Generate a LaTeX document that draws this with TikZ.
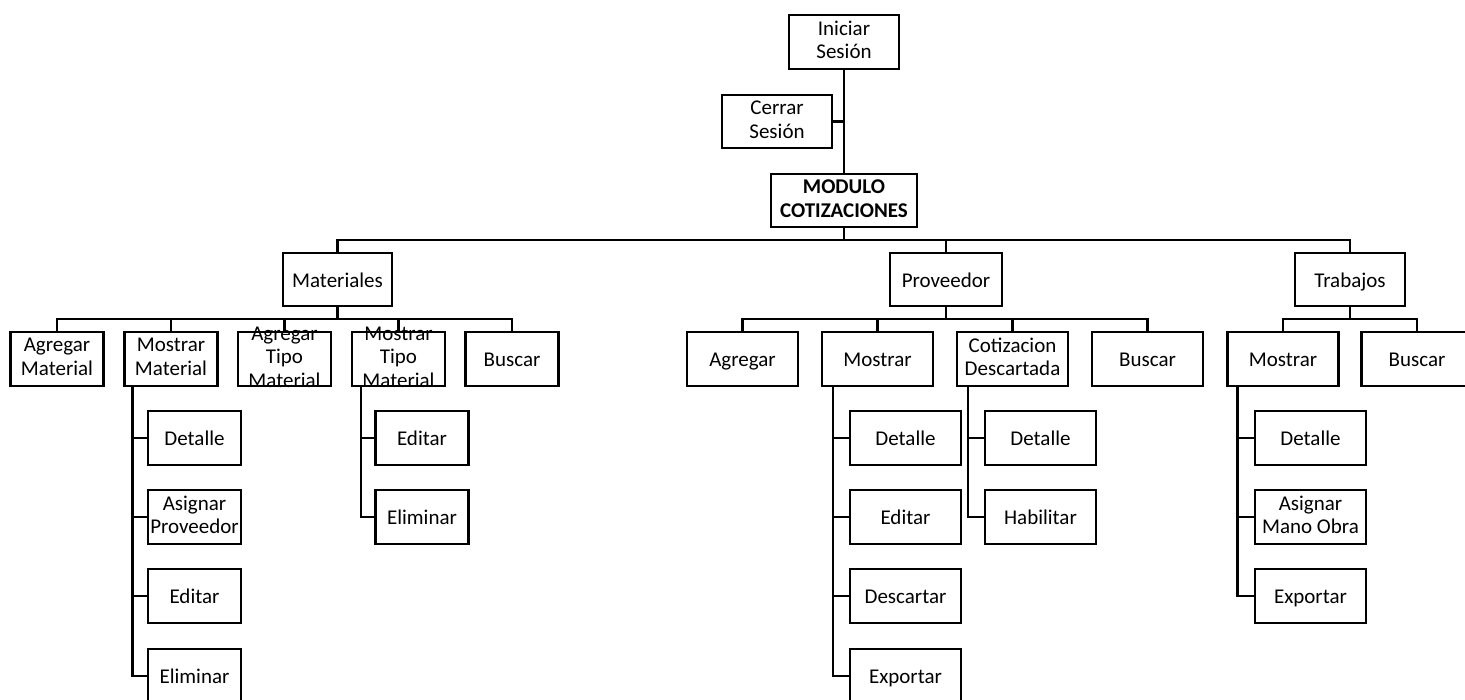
\documentclass[tikz,border=0pt]{standalone}
\usepackage{fontspec}
\setmainfont{Carlito}
\newcommand\boxstrut{\rule[-4.05pt]{0pt}{23.5pt}}
\begin{document}
\begin{tikzpicture}[x=1pt,y=-1pt,
  txtfont/.style={font=\fontsize{21}{23.5}\selectfont},
  box/.style={draw, line width=2.2pt, minimum height=54pt, inner sep=0pt, align=center, txtfont,
    execute at begin node=\boxstrut, execute at end node=\boxstrut},
  topbox/.style={box, minimum height=53pt},
  wA/.style={minimum width=93pt},
  wB/.style={minimum width=111pt},
  conn/.style={line width=2.6pt},
  lbl/.style={inner sep=0pt, align=center, txtfont,
    execute at begin node=\boxstrut, execute at end node=\boxstrut}]
\useasboundingbox (0,0) rectangle (1465,700);
\clip (0,0) rectangle (1465,700);

% top
\node[box, minimum width=110pt] (ini) at (844,42) {Iniciar\\Sesión};
\node[topbox, minimum width=110pt] (cer) at (777,121.5) {Cerrar\\Sesión};
\node[topbox, minimum width=146pt, font=\fontsize{21}{23.5}\selectfont\bfseries] (mod) at (844,200.5) {MODULO\\COTIZACIONES};

% level 1
\node[topbox, minimum width=109pt] (mat) at (337.5,279.5) {Materiales};
\node[topbox, minimum width=112pt] (prov) at (946,279.5) {Proveedor};
\node[topbox, minimum width=110pt] (trab) at (1350,279.5) {Trabajos};

% level 2 materiales
\node[box, wA] (m1) at (57,359) {Agregar\\Material};
\node[box, wA] (m2) at (171,359) {Mostrar\\Material};
\node[box, wA, execute at begin node={}, execute at end node={}] (m3) at (284.5,359) {};
\node[lbl] (m3t) at (m3) {Agregar\\Tipo\\Material};
\node[box, wA, execute at begin node={}, execute at end node={}] (m4) at (398.5,359) {};
\node[lbl] (m4t) at (m4) {Mostrar\\Tipo\\Material};
\node[box, wA] (m5) at (512,359) {Buscar};

% level 2 proveedor
\node[box, wB] (p1) at (742.5,359) {Agregar};
\node[box, wB] (p2) at (877.5,359) {Mostrar};
\node[box, wB] (p3) at (1012.5,359) {Cotizacion\\Descartada};
\node[box, wB] (p4) at (1147.5,359) {Buscar};

% level 2 trabajos
\node[box, wB] (t1) at (1283,359) {Mostrar};
\node[box, wB] (t2) at (1417,359) {Buscar};

% level 3
\node[box, wA] (m2a) at (194.5,438) {Detalle};
\node[box, wA] (m2b) at (194.5,517) {Asignar\\Proveedor};
\node[box, wA] (m2c) at (194.5,596) {Editar};
\node[box, wA] (m2d) at (194.5,676) {Eliminar};

\node[box, wA] (m4a) at (422,438) {Editar};
\node[box, wA] (m4b) at (422,517) {Eliminar};

\node[box, wB] (p2a) at (905.5,438) {Detalle};
\node[box, wB] (p2b) at (905.5,517) {Editar};
\node[box, wB] (p2c) at (905.5,596) {Descartar};
\node[box, wB] (p2d) at (905.5,676) {Exportar};

\node[box, wB] (p3a) at (1040.5,438) {Detalle};
\node[box, wB] (p3b) at (1040.5,517) {Habilitar};

\node[box, wB] (t1a) at (1310.5,438) {Detalle};
\node[box, wB] (t1b) at (1310.5,517) {Asignar\\Mano Obra};
\node[box, wB] (t1c) at (1310.5,596) {Exportar};

% connectors
\draw[conn] (ini.south) -- (mod.north);
\draw[conn] (cer.east) -- (cer.east -| ini.south);
\foreach \c in {mat,prov,trab} \draw[conn] (mod.south) -- ++(0,12) -| (\c.north);
\foreach \c in {m1,m2,m3,m4,m5} \draw[conn] (mat.south) -- ++(0,12) -| (\c.north);
\foreach \c in {p1,p2,p3,p4} \draw[conn] (prov.south) -- ++(0,12) -| (\c.north);
\foreach \c in {t1,t2} \draw[conn] (trab.south) -- ++(0,12) -| (\c.north);

\foreach \c in {m2a,m2b,m2c,m2d} \draw[conn] ([xshift=9pt]m2.south west) |- (\c.west);
\foreach \c in {m4a,m4b} \draw[conn] ([xshift=10pt]m4.south west) |- (\c.west);
\foreach \c in {p2a,p2b,p2c,p2d} \draw[conn] ([xshift=12pt]p2.south west) |- (\c.west);
\foreach \c in {p3a,p3b} \draw[conn] ([xshift=12pt]p3.south west) |- (\c.west);
\foreach \c in {t1a,t1b,t1c} \draw[conn] ([xshift=11pt]t1.south west) |- (\c.west);
\end{tikzpicture}
\end{document}
